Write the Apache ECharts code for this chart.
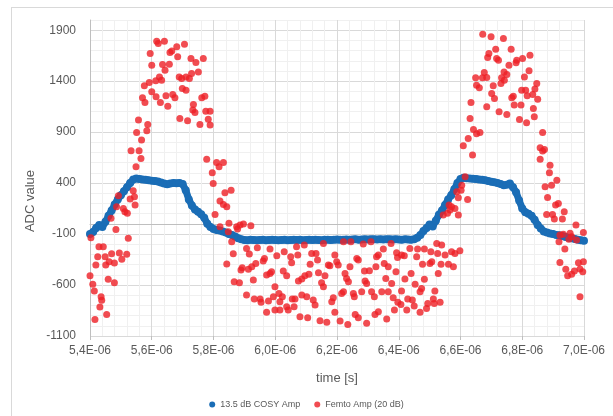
<!DOCTYPE html>
<html>
<head>
<meta charset="utf-8">
<script src="https://cdn.jsdelivr.net/npm/echarts@6/dist/echarts.min.js"></script>
<style>html,body{margin:0;padding:0;background:#fff}#c{width:613px;height:416px}</style>
</head>
<body>
<div id="c"></div>
<script>
// time in microseconds (axis shows E-06 s), ADC values
const seriesNames = ['13.5 dB COSY Amp', 'Femto Amp (20 dB)'];
const yTickLabels = [-1100, -600, -100, 400, 900, 1400, 1900];
const xTickLabels = ['5,4E-06','5,6E-06','5,8E-06','6,0E-06','6,2E-06','6,4E-06','6,6E-06','6,8E-06','7,0E-06'];

const cosyPoints = [
[5.40,-100],[5.41,-80],[5.42,-40],[5.43,-10],[5.44,-30],[5.45,20],[5.46,80],[5.47,130],[5.48,190],[5.49,240],
[5.50,280],[5.51,320],[5.52,360],[5.53,400],[5.54,435],[5.55,445],[5.56,440],[5.57,435],[5.58,432],[5.59,428],
[5.60,424],[5.61,420],[5.62,415],[5.63,405],[5.64,395],[5.65,388],[5.66,395],[5.67,400],[5.68,398],[5.69,400],
[5.70,392],[5.71,330],[5.72,240],[5.73,180],[5.74,140],[5.75,120],[5.76,95],[5.77,60],[5.78,0],[5.79,-30],
[5.80,-50],[5.81,-60],[5.82,-65],[5.83,-75],[5.84,-85],[5.85,-100],[5.86,-110],[5.87,-125],[5.88,-140],[5.89,-152],
[5.90,-158],[5.91,-160],[5.92,-157],[5.93,-159],[5.94,-161],[5.95,-158],[5.96,-157],[5.97,-160],[5.98,-158],[5.99,-156],
[6.00,-159],[6.01,-161],[6.02,-158],[6.03,-157],[6.04,-160],[6.05,-158],[6.06,-156],[6.07,-159],[6.08,-157],[6.09,-160],
[6.10,-158],[6.11,-157],[6.12,-159],[6.13,-156],[6.14,-158],[6.15,-160],[6.16,-157],[6.17,-155],[6.18,-158],[6.19,-156],
[6.20,-154],[6.21,-157],[6.22,-155],[6.23,-153],[6.24,-156],[6.25,-154],[6.26,-152],[6.27,-155],[6.28,-153],[6.29,-151],
[6.30,-154],[6.31,-152],[6.32,-150],[6.33,-153],[6.34,-151],[6.35,-153],[6.36,-150],[6.37,-152],[6.38,-154],[6.39,-151],
[6.40,-153],[6.41,-155],[6.42,-152],[6.43,-154],[6.44,-156],[6.45,-150],[6.46,-135],[6.47,-110],[6.48,-70],[6.49,-40],
[6.50,-5],[6.51,-25],[6.52,30],[6.53,90],[6.54,130],[6.55,185],[6.56,240],[6.57,280],[6.58,340],[6.59,400],
[6.60,440],[6.61,452],[6.62,448],[6.63,445],[6.64,442],[6.65,440],[6.66,436],[6.67,432],[6.68,428],[6.69,420],
[6.70,412],[6.71,408],[6.72,400],[6.73,392],[6.74,380],[6.75,385],[6.76,395],[6.77,360],[6.78,310],[6.79,230],
[6.80,150],[6.81,115],[6.82,100],[6.83,80],[6.84,40],[6.85,-10],[6.86,-45],[6.87,-75],[6.88,-85],[6.89,-95],
[6.90,-100],[6.91,-108],[6.92,-112],[6.93,-120],[6.94,-128],[6.95,-135],[6.96,-140],[6.97,-148],[6.98,-155],[6.99,-160],
[7.00,-165]
];

const femtoPoints = [
[5.616,1792],[5.621,1769],[5.641,1792],[5.706,1763],[5.681,1737],[5.665,1697],[5.659,1681],[5.684,1639],[5.595,1671],[5.727,1622],
[5.767,1622],[5.743,1583],[5.600,1557],[5.635,1563],[5.657,1567],[5.643,1508],[5.729,1475],[5.751,1491],[5.711,1442],[5.697,1426],
[5.689,1442],[5.722,1426],[5.625,1442],[5.613,1403],[5.592,1387],[5.632,1410],[5.576,1354],[5.600,1295],[5.614,1246],[5.646,1256],
[5.668,1269],[5.675,1237],[5.699,1328],[5.711,1312],[5.762,1237],[5.772,1253],[5.570,1237],[5.578,1191],[5.628,1191],[5.652,1155],
[5.735,1171],[5.733,1116],[5.740,1093],[5.775,1106],[5.691,1034],[5.716,1011],[5.756,975],[5.789,969],[5.557,1018],[5.587,975],
[5.551,897],[5.584,913],[5.567,822],[5.533,717],[5.559,717],[5.565,642],[5.549,560],[5.778,635],
[5.540,325],[5.492,276],[5.544,266],[5.530,243],[5.546,184],[5.486,168],[5.508,152],[5.513,119],[5.521,103],[5.468,54],
[5.484,-54],[5.524,-142],[5.403,-136],[5.429,-224],[5.443,-224],[5.425,-322],[5.449,-322],[5.470,-293],[5.495,-286],[5.519,-299],
[5.419,-404],[5.451,-404],[5.462,-371],[5.479,-384],[5.503,-348],[5.400,-508],[5.409,-593],[5.414,-659],[5.459,-544],[5.479,-577],
[5.436,-714],[5.438,-750],[5.432,-816],[5.454,-888],[5.416,-937],
[5.789,1106],[5.783,1027],[5.810,603],[5.818,560],[5.832,603],[5.796,501],[5.799,397],[5.857,331],[5.837,305],[5.821,224],
[5.832,191],[5.843,168],[5.805,93],[5.821,-28],[5.850,5],[5.875,-28],[5.886,-12],[5.897,-2],[5.921,-18],[5.848,-77],
[5.878,-51],[5.859,-175],[5.864,-293],[5.843,-394],[5.907,-241],[5.916,-296],[5.942,-234],[5.889,-453],[5.893,-430],[5.913,-446],
[5.924,-420],[5.937,-388],[5.867,-567],[5.884,-577],[5.929,-551],[5.961,-365],[5.965,-339],[5.983,-247],[6.005,-312],[6.029,-273],
[6.050,-322],[6.073,-306],[6.069,-224],[6.053,-381],[6.094,-208],[6.118,-290],[6.132,-290],[6.156,-192],[6.113,-397],[6.137,-355],
[6.172,-404],[5.972,-502],[5.983,-486],[5.988,-469],[6.026,-463],[6.037,-508],[6.075,-561],[6.086,-541],[6.096,-508],[6.109,-495],
[6.140,-479],[6.161,-508],[6.150,-577],[6.156,-616],[5.907,-698],[5.932,-737],[5.951,-737],[5.954,-770],[5.978,-757],[5.994,-714],
[5.999,-616],[6.012,-682],[6.023,-714],[6.015,-763],[6.055,-737],[6.064,-737],[6.061,-812],[6.037,-812],[6.042,-845],[5.999,-845],
[6.015,-845],[5.972,-868],[6.086,-698],[6.102,-714],[6.123,-747],[6.129,-796],[6.080,-910],[6.105,-920],[6.145,-950],[6.167,-966],
[6.221,-175],[6.245,-175],[6.285,-198],[6.310,-175],[6.375,-192],[6.350,-247],[6.193,-306],[6.177,-411],[6.199,-371],[6.204,-404],
[6.226,-486],[6.242,-420],[6.264,-339],[6.269,-355],[6.231,-535],[6.237,-567],[6.289,-463],[6.305,-459],[6.328,-322],[6.334,-306],
[6.326,-420],[6.353,-388],[6.366,-420],[6.391,-469],[6.393,-283],[6.396,-329],[6.409,-306],[6.418,-312],[6.436,-241],[6.461,-247],
[6.483,-247],[6.504,-273],[6.458,-322],[6.477,-397],[6.501,-388],[6.507,-371],[6.523,-192],[6.539,-208],[6.526,-290],[6.550,-306],
[6.537,-397],[6.561,-397],[6.528,-486],[6.440,-486],[6.420,-541],[6.453,-593],[6.483,-544],[6.474,-633],[6.469,-665],[6.517,-659],
[6.291,-561],[6.296,-584],[6.358,-535],[6.377,-584],[6.221,-665],[6.215,-682],[6.188,-724],[6.183,-763],[6.253,-682],[6.256,-714],
[6.280,-665],[6.312,-665],[6.321,-714],[6.345,-665],[6.366,-665],[6.382,-724],[6.397,-770],[6.407,-790],[6.409,-659],[6.429,-737],
[6.444,-747],[6.450,-806],[6.426,-845],[6.386,-845],[6.334,-861],[6.323,-888],[6.361,-933],[6.296,-976],[6.269,-920],[6.259,-888],
[6.210,-953],[6.235,-986],[6.193,-868],[6.469,-868],[6.490,-829],[6.494,-780],[6.512,-737],[6.515,-780],[6.534,-770],[6.544,86],
[6.558,103],[6.563,184],
[6.672,1861],[6.699,1835],[6.739,1818],[6.714,1714],[6.692,1671],[6.688,1632],[6.764,1714],[6.717,1622],[6.723,1606],[6.782,1606],
[6.780,1580],[6.801,1622],[6.825,1655],[6.757,1557],[6.649,1433],[6.677,1485],[6.671,1433],[6.685,1436],[6.652,1361],[6.661,1335],
[6.706,1354],[6.733,1433],[6.750,1465],[6.742,1410],[6.731,1377],[6.741,1491],[6.807,1442],[6.822,1501],[6.847,1377],[6.841,1322],
[6.701,1279],[6.710,1230],[6.798,1312],[6.811,1312],[6.816,1256],[6.834,1269],[6.850,1223],[6.771,1253],[6.766,1237],[6.774,1165],
[6.796,1165],[6.685,1148],[6.634,1191],[6.725,1099],[6.750,1073],[6.836,1132],[6.839,1050],[6.791,1024],[6.814,992],[6.631,1034],
[6.642,926],[6.652,884],[6.663,897],[6.625,838],[6.609,766],[6.639,675],[6.866,897],[6.858,746],[6.866,714],[6.872,730],
[6.858,635],[6.890,576],[6.888,501],[6.912,429],[6.874,364],[6.895,380],[6.882,259],[6.917,201],[6.908,184],[6.879,93],
[6.898,93],[6.904,47],[6.936,119],[6.930,47],[6.974,-12],[6.615,462],[6.604,380],[6.602,331],[6.588,315],[6.593,256],
[6.623,240],[6.582,152],[6.566,135],[6.593,86],[6.571,168],[6.922,-110],[6.933,-103],[6.955,-93],[6.960,-126],[6.951,-152],
[6.976,-159],[6.998,-84],[6.919,-175],[6.938,-247],[6.922,-378],[6.941,-446],[6.947,-508],[6.960,-495],[6.969,-463],[6.982,-381],
[6.998,-371],[6.996,-469],[7.003,-411],[6.987,-443],[6.987,-714],[6.571,-273],[6.577,-420],[6.582,-290],[6.598,-263]
];

const labelColor = '#595959';
const fontFam = '"Liberation Sans", Arial, sans-serif';
const majorGrid = '#d9d9d9';
const minorGrid = '#f0f0f0';
const gridCycle = [majorGrid, minorGrid, minorGrid, minorGrid, minorGrid];

const chart = echarts.init(document.getElementById('c'), null, {renderer: 'canvas'});
chart.setOption({
  animation: false,
  backgroundColor: '#ffffff',
  textStyle: {fontFamily: fontFam},
  grid: {left: 90, right: 29, top: 20, bottom: 80, containLabel: false},
  graphic: [
    {type: 'line', shape: {x1: 11, y1: 7.5, x2: 613, y2: 7.5}, style: {stroke: '#d9d9d9', lineWidth: 1}, silent: true},
    {type: 'line', shape: {x1: 11.5, y1: 7, x2: 11.5, y2: 416}, style: {stroke: '#d9d9d9', lineWidth: 1}, silent: true},
    {type: 'text', x: 30, y: 201, rotation: Math.PI / 2,
     style: {text: 'ADC value', fill: labelColor, fontSize: 13, fontFamily: fontFam, textAlign: 'center', textVerticalAlign: 'middle'}}
  ],
  legend: {
    data: seriesNames,
    bottom: 2,
    left: 'center',
    icon: 'circle',
    itemWidth: 6,
    itemHeight: 6,
    itemGap: 14,
    textStyle: {fontSize: 9, color: labelColor, fontFamily: fontFam}
  },
  xAxis: [
    {
      type: 'value', min: 5.4, max: 7.0, interval: 0.04, position: 'bottom',
      axisLine: {show: true, lineStyle: {color: '#bfbfbf'}},
      axisTick: {show: false},
      axisLabel: {show: false},
      splitLine: {show: true, lineStyle: {color: gridCycle, width: 1}}
    },
    {
      type: 'value', min: 5.4, max: 7.0, interval: 0.2, position: 'bottom',
      name: 'time [s]', nameLocation: 'middle', nameGap: 36,
      nameTextStyle: {fontSize: 13, color: labelColor, fontFamily: fontFam},
      axisLine: {show: false},
      axisTick: {show: true, length: 4, lineStyle: {color: '#bfbfbf'}},
      axisLabel: {
        color: labelColor, fontSize: 12, margin: 9, fontFamily: fontFam,
        formatter: function (v) {
          const i = Math.round((v - 5.4) / 0.2);
          return xTickLabels[i] || '';
        }
      },
      splitLine: {show: false}
    }
  ],
  yAxis: {
    type: 'value', min: -1100, max: 2000, interval: 100,
    axisLine: {show: true, lineStyle: {color: '#bfbfbf'}},
    axisTick: {show: false},
    axisLabel: {
      color: labelColor, fontSize: 12, margin: 14, fontFamily: fontFam,
      formatter: function (v) {
        const r = Math.round(v);
        return yTickLabels.indexOf(r) >= 0 ? String(r) : '';
      }
    },
    splitLine: {show: true, lineStyle: {color: gridCycle, width: 1}}
  },
  series: [
    {
      name: seriesNames[0], type: 'line', xAxisIndex: 0,
      data: cosyPoints,
      symbol: 'circle', symbolSize: 8, showSymbol: true,
      lineStyle: {color: '#1a6db6', width: 7},
      itemStyle: {color: '#1a6db6'},
      z: 2
    },
    {
      name: seriesNames[1], type: 'scatter', xAxisIndex: 0,
      data: femtoPoints,
      symbol: 'circle', symbolSize: 7,
      itemStyle: {color: '#ee1f26'},
      z: 3
    }
  ]
});
</script>
</body>
</html>
